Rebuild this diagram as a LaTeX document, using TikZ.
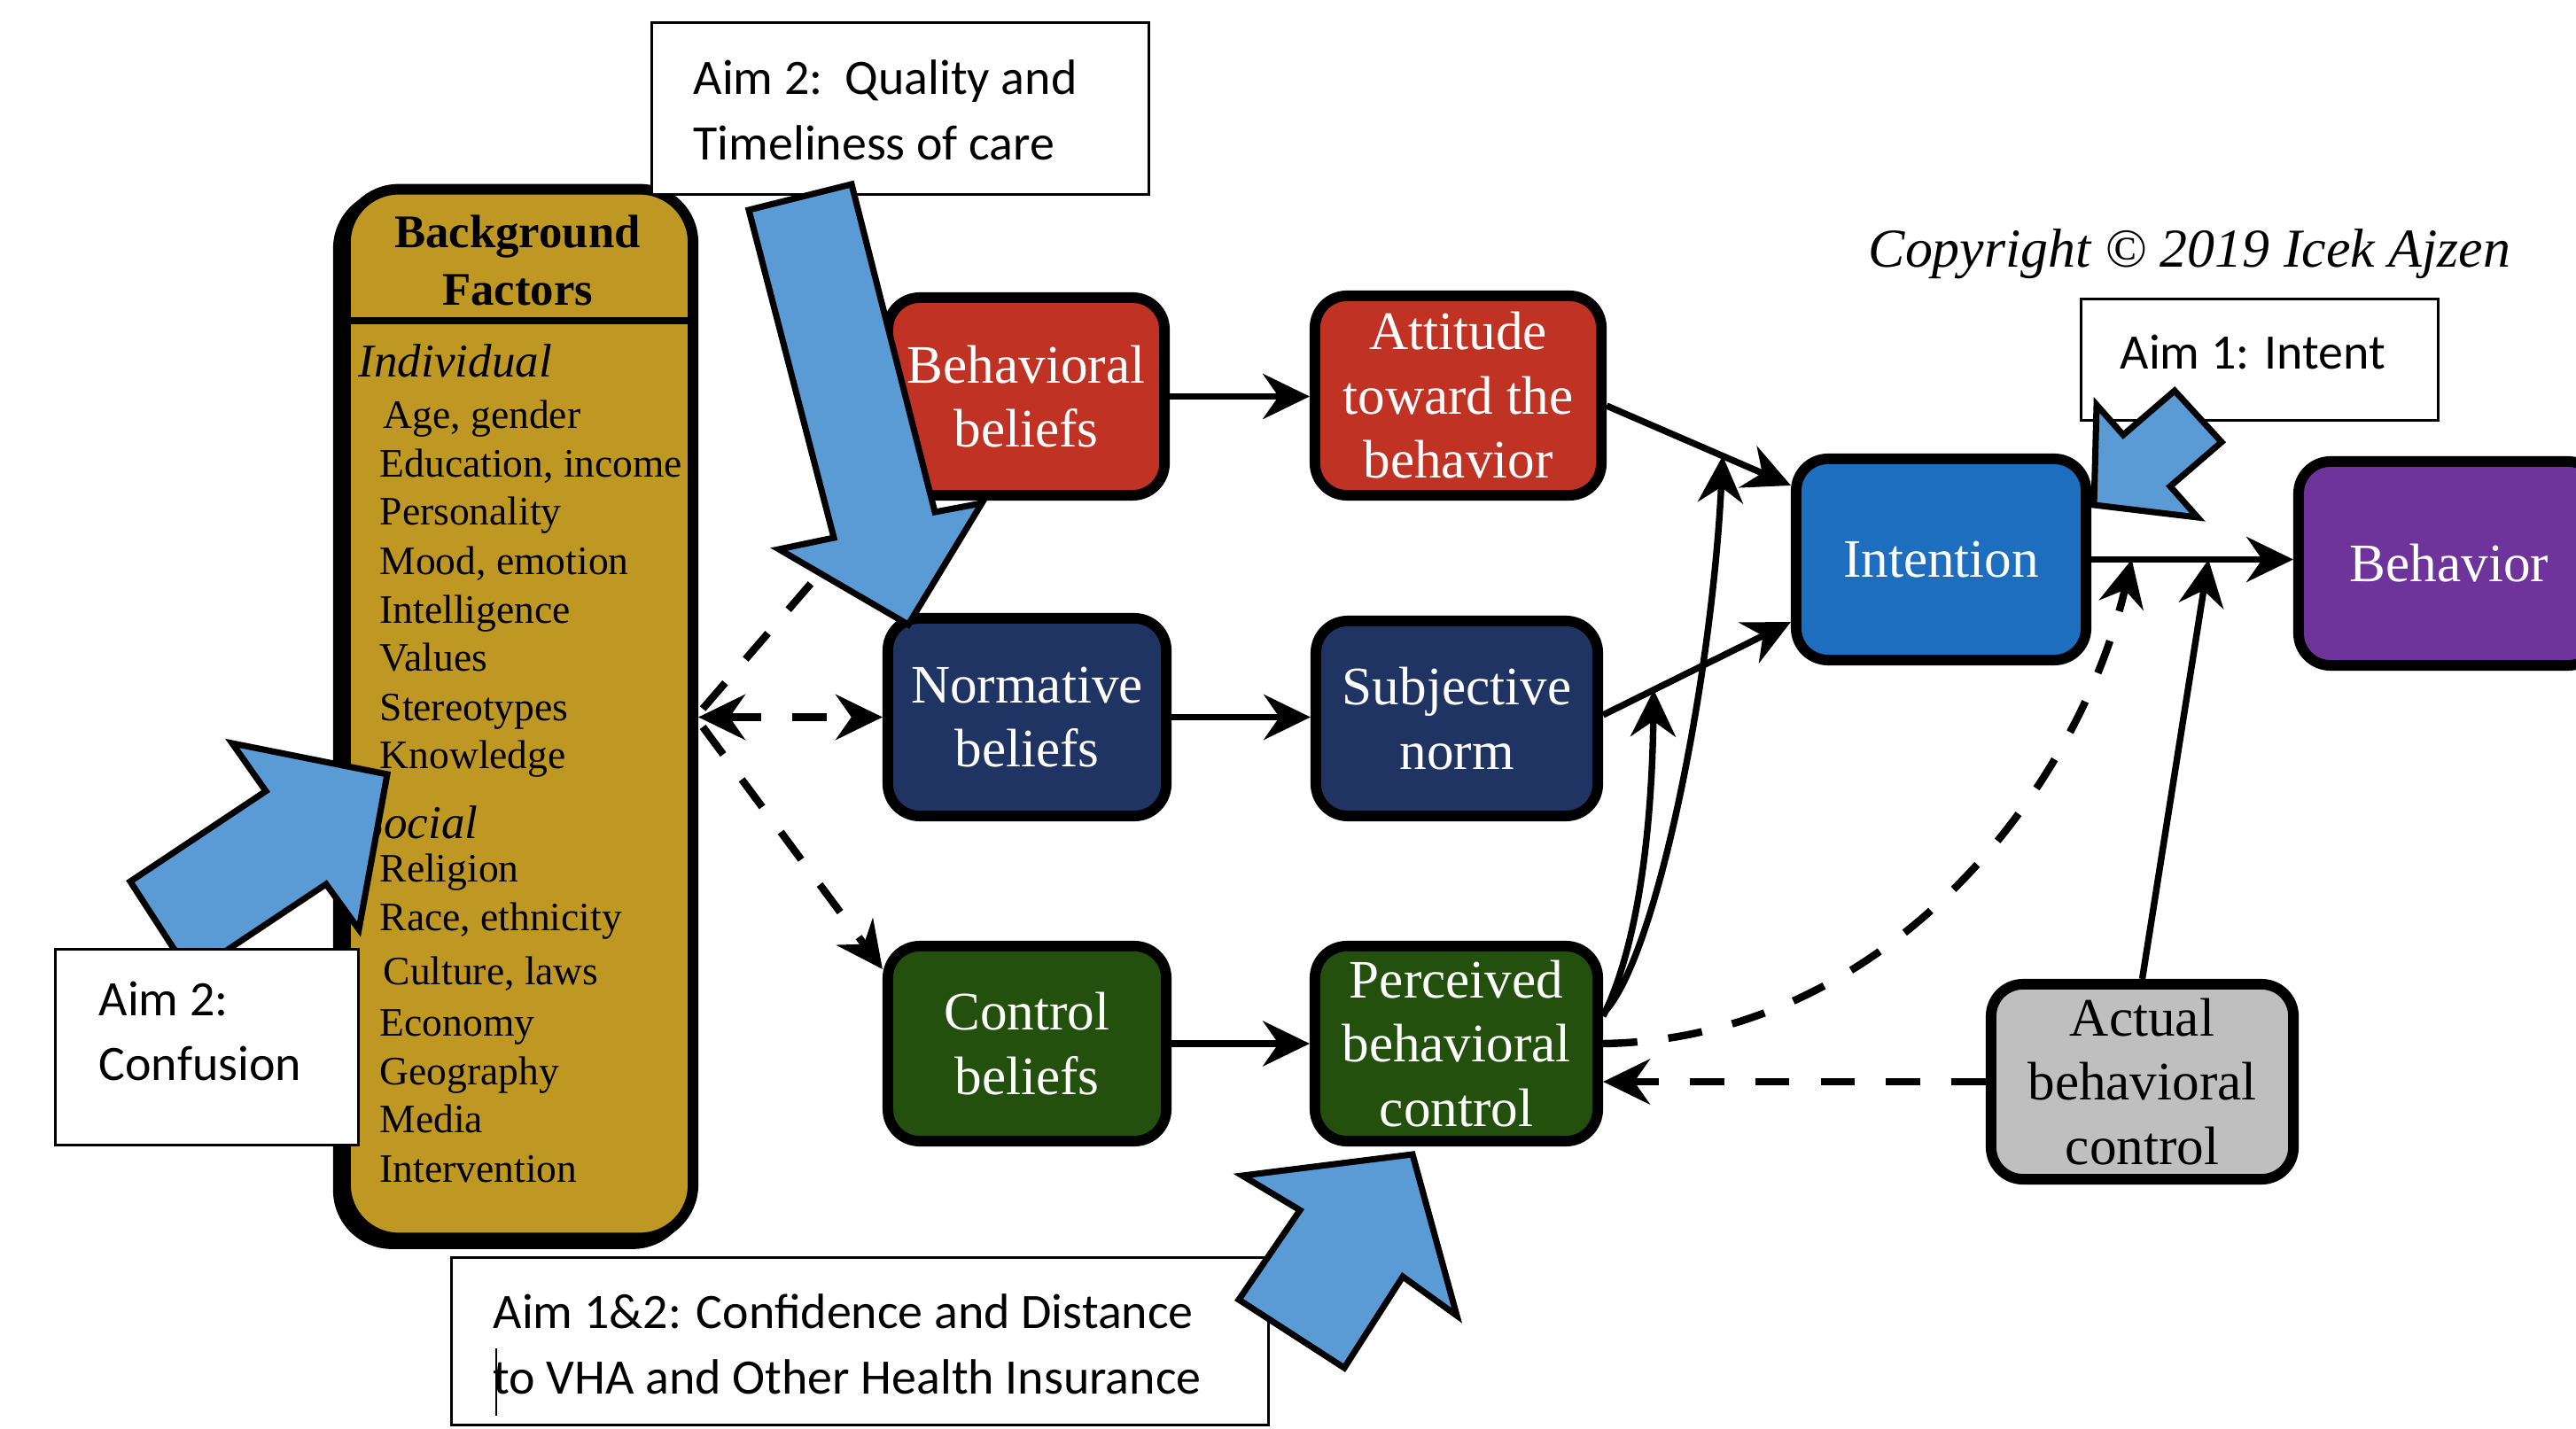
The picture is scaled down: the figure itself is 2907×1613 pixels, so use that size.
\documentclass[tikz,border=0pt]{standalone}
\usepackage{fontspec}
\setmainfont{Liberation Serif}
\newfontfamily\carfont{Carlito}
\usetikzlibrary{arrows.meta,calc}
\definecolor{bggold}{RGB}{191,152,36}
\definecolor{tpbred}{RGB}{192,50,36}
\definecolor{tpbnavy}{RGB}{31,52,99}
\definecolor{tpbgreen}{RGB}{36,80,13}
\definecolor{tpbblue}{RGB}{30,110,192}
\definecolor{tpbpurple}{RGB}{111,52,155}
\definecolor{tpbgray}{RGB}{191,191,191}
\definecolor{aimblue}{RGB}{91,155,213}
\newcommand\tpbfont{\fontsize{17.4}{20.6}\selectfont}
\newcommand\bgheadfont{\fontsize{15}{18.5}\selectfont\bfseries}
\newcommand\bgitemfont{\fontsize{12.95}{15}\selectfont}
\newcommand\bgcatfont{\fontsize{15.1}{18}\selectfont\itshape}
\newcommand\aimfont{\carfont\fontsize{15.9}{21}\selectfont}
\newcommand\copyfont{\fontsize{17.6}{20}\selectfont\itshape}
\tikzset{
  >={Stealth[length=15pt,width=14.5pt,inset=5pt]},
  tpb/.style={draw=black, line width=3.4pt, rounded corners=0.36cm, text=white,
    align=center, inner sep=0pt, font=\tpbfont},
  bgitem/.style={anchor=west, inner sep=0pt, font=\bgitemfont, text height=1.5ex, text depth=.25ex},
  bgcat/.style={anchor=west, inner sep=0pt, font=\bgcatfont, text height=1.5ex, text depth=.25ex},
  aimbox/.style={draw=black, fill=white, line width=0.9pt, inner sep=0pt},
  aimtext/.style={anchor=west, inner sep=0pt, align=left, font=\aimfont},
  conn/.style={line width=2.1pt, ->},
  dconn/.style={line width=2.4pt, dash pattern=on 11pt off 10pt, ->},
  blockarrow/.style={fill=aimblue, draw=black, line width=2pt, line join=miter},
}
\begin{document}
\begin{tikzpicture}[x=0.01cm, y=-0.01cm]
\useasboundingbox (0,0) rectangle (2907,1613);
\clip (0,0) rectangle (2907,1613);

% Background factors box
\node[draw=black, fill=black, line width=3.4pt, rounded corners=0.6cm, minimum width=3.92cm, minimum height=11.83cm] (bgs) at (578,812) {};
\node[draw=black, fill=bggold, line width=3.4pt, rounded corners=0.6cm, minimum width=3.92cm, minimum height=11.83cm] (bg) at (586,805.5) {};
\draw[line width=2.3pt] ($(bg.north west)+(6,154)$) -- ($(bg.north east)+(-6,154)$);
\node[align=center, inner sep=0pt, font=\bgheadfont] (bgh) at (584,293.5) {Background\\Factors};
\node[bgcat] (ind) at (404,415) {Individual};
\node[bgitem] (i1) at (432,473) {Age, gender};
\node[bgitem] (i2) at (428,528) {Education, income};
\node[bgitem] (i3) at (428,582) {Personality};
\node[bgitem] (i4) at (428,638) {Mood, emotion};
\node[bgitem] (i5) at (428,693) {Intelligence};
\node[bgitem] (i6) at (428,747) {Values};
\node[bgitem] (i7) at (428,803) {Stereotypes};
\node[bgitem] (i8) at (428,857) {Knowledge};
\node[bgcat] (soc) at (406,936) {Social};
\node[bgitem] (s1) at (428,985) {Religion};
\node[bgitem] (s2) at (428,1040) {Race, ethnicity};
\node[bgitem] (s3) at (432,1101) {Culture, laws};
\node[bgitem] (s4) at (428,1159) {Economy};
\node[bgitem] (s5) at (428,1214) {Geography};
\node[bgitem] (s6) at (428,1268) {Media};
\node[bgitem] (s7) at (428,1324) {Intervention};

% TPB boxes
\node[tpb, fill=tpbred, minimum width=3.12cm, minimum height=2.23cm] (bb) at (1158,447.5) {Behavioral\\beliefs};
\node[tpb, fill=tpbred, minimum width=3.23cm, minimum height=2.25cm] (att) at (1645.5,446.5) {Attitude\\toward the\\behavior};
\node[tpb, fill=tpbnavy, minimum width=3.14cm, minimum height=2.23cm] (nb) at (1159,809.5) {Normative\\beliefs};
\node[tpb, fill=tpbnavy, minimum width=3.18cm, minimum height=2.20cm] (sn) at (1644,811) {Subjective\\norm};
\node[tpb, fill=tpbgreen, minimum width=3.14cm, minimum height=2.20cm] (cb) at (1159,1178) {Control\\beliefs};
\node[tpb, fill=tpbgreen, minimum width=3.19cm, minimum height=2.20cm] (pbc) at (1643.5,1178) {Perceived\\behavioral\\control};
\node[tpb, fill=tpbblue, minimum width=3.27cm, minimum height=2.27cm] (int) at (2190.5,631.5) {Intention};
\node[tpb, fill=tpbpurple, minimum width=3.40cm, minimum height=2.30cm] (beh) at (2764,636) {Behavior};
\node[tpb, fill=tpbgray, text=black, minimum width=3.41cm, minimum height=2.20cm] (abc) at (2417.5,1221) {Actual\\behavioral\\control};

% connectors
\coordinate (aL) at ([yshift=-0.115cm]att.east);
\coordinate (aR) at ([yshift=0.835cm]int.west);
\coordinate (sL) at ([yshift=0.04cm]sn.east);
\coordinate (sR) at ([yshift=-0.705cm]int.west);
\coordinate (ib1) at (int.east);
\coordinate (ib2) at (int.east -| beh.west);
\draw[conn] (bb.east) -- (bb.east -| att.west);
\draw[conn] (nb.east) -- (nb.east -| sn.west);
\draw[conn] (cb.east) -- (cb.east -| pbc.west);
\draw[conn] (aL) -- (aR);
\draw[conn] (sL) -- (sR);
\draw[conn] (ib1) -- (ib2);
\draw[conn] ([yshift=0.34cm]pbc.east) .. controls +(60,-60) and +(-12,250) .. ($(aL)!0.63!(aR)$);
\draw[conn] ([yshift=0.31cm]pbc.east) .. controls +(30,-60) and +(-3,200) .. ($(sL)!0.27!(sR)$);
\draw[dconn] (pbc.east) .. controls +(320,-5) and +(-60,260) .. ($(ib1)!0.2!(ib2)$);
\draw[conn] (abc.north) -- ($(ib1)!0.58!(ib2)$);
\draw[dconn] (abc.west) -- (abc.west -| pbc.east);
\draw[dconn, <->] (nb.west -| bg.east) -- (nb.west);
\draw[dconn] ([xshift=0.05cm,yshift=0.055cm]bg.east) -- (bb.south west);
\draw[dconn] ([xshift=0.05cm,yshift=-0.15cm]bg.east) -- ([yshift=-0.32cm]cb.north west);

% Aim 2: Confusion
\draw[blockarrow] (437,874) -- (405,1049) -- (368,998) -- (215,1100) -- (147,995) -- (300,893) -- (262,839) -- cycle;
\node[aimbox, minimum width=3.42cm, minimum height=2.21cm] (cbox) at (233.5,1182) {};
\node[aimtext] (ctext) at (111,1164) {Aim 2:\\Confusion};

% Aim 2: Quality
\node[aimbox, minimum width=5.61cm, minimum height=1.94cm] (qbox) at (1016,122.5) {};
\node[aimtext] (qtext) at (782,124) {Aim 2:\ \ Quality and\\Timeliness of care};
\draw[blockarrow] (845,237) -- (961,208) -- (1055,578) -- (1108,568) -- (1025,705) -- (879,620) -- (941,607) -- cycle;

% Aim 1: Intent
\node[aimbox, minimum width=4.03cm, minimum height=1.37cm] (ibox) at (2550,406) {};
\node[aimtext] (itext) at (2392,397) {Aim 1: Intent};
\draw[blockarrow] (2363,570) -- (2366,457) -- (2396,491) -- (2454,441) -- (2507,499) -- (2449,549) -- (2480,584) -- cycle;

% Aim 1&2
\node[aimbox, minimum width=9.22cm, minimum height=1.89cm] (abox) at (970.5,1514) {};
\node[aimtext] (atext) at (556,1517) {Aim 1\&2: Confidence and Distance\\to VHA and Other Health Insurance};
\draw[line width=0.6pt] (560,1522) -- (560,1598);
\draw[blockarrow] (1594,1303) -- (1644,1485) -- (1583,1441) -- (1517,1544) -- (1398,1467) -- (1467,1366) -- (1402,1327) -- cycle;

% copyright
\node[anchor=west, inner sep=0pt, font=\copyfont] (copy) at (2108,287) {Copyright © 2019 Icek Ajzen};
\end{tikzpicture}
\end{document}
